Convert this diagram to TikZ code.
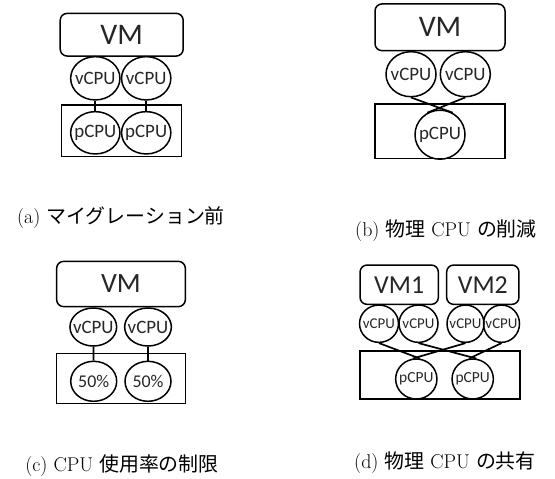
\documentclass[tikz,border=0pt]{standalone}
\usepackage{fontspec}
\usetikzlibrary{shapes.geometric}
\newfontfamily\jpfont{Noto Sans CJK JP}
\newfontfamily\diagfont{Carlito}
\newcommand{\cpuname}[1]{\makebox[0pt]{#1}}
\newcommand{\diagsize}[1]{\diagfont\fontsize{#1}{#1}\selectfont}

\begin{document}
\begin{tikzpicture}[x=1bp, y=-1bp,
  vmbox/.style={draw, rounded corners=7bp, line width=1.5bp, inner sep=0pt, text=black!85},
  cpu/.style={draw, ellipse, line width=1.5bp, inner sep=0pt, text=black!85},
  hostbox/.style={draw, line width=1.5bp, inner sep=0pt},
  link/.style={line width=1.7bp},
  caption/.style={font=\fontsize{20}{24}\selectfont, inner sep=0pt}]
\useasboundingbox (0,0) rectangle (555,479);
% (a)
\node[vmbox, minimum width=123bp, minimum height=42.7bp, font=\diagsize{30}] (vmA) at (121.7,34.7) {VM};
\node[hostbox, minimum width=120bp, minimum height=51.7bp] (hostA) at (121.7,130.8) {};
\node[cpu, minimum width=49.3bp, minimum height=43.3bp, font=\diagsize{19}] (vA1) at (95.3,78.3) {\cpuname{vCPU}};
\node[cpu, minimum width=49.3bp, minimum height=43.3bp, font=\diagsize{19}] (vA2) at (146.2,78.3) {\cpuname{vCPU}};
\node[cpu, minimum width=49.3bp, minimum height=42.3bp, font=\diagsize{19}] (pA1) at (95.3,132.8) {\cpuname{pCPU}};
\node[cpu, minimum width=49.3bp, minimum height=42.3bp, font=\diagsize{19}] (pA2) at (146.2,132.8) {\cpuname{pCPU}};
\draw[link] (vA1) -- (pA1);
\draw[link] (vA2) -- (pA2);
\node[caption] (capA) at (121,218) {(a) {\jpfont マイグレーション前}};
% (b)
\node[vmbox, minimum width=130bp, minimum height=46.7bp, font=\diagsize{30}] (vmB) at (440,27.3) {VM};
\node[hostbox, minimum width=130bp, minimum height=54.3bp] (hostB) at (440,131.2) {};
\node[cpu, minimum width=50bp, minimum height=45bp, font=\diagsize{19}] (vB1) at (411,74.2) {\cpuname{vCPU}};
\node[cpu, minimum width=50bp, minimum height=45bp, font=\diagsize{19}] (vB2) at (465.3,74.2) {\cpuname{vCPU}};
\node[cpu, minimum width=50bp, minimum height=49bp, font=\diagsize{19}] (pB) at (440,134.7) {\cpuname{pCPU}};
\draw[link] (vB1.south) -- (pB.60);
\draw[link] (vB2.south) -- (pB.120);
\node[caption] (capB) at (446,231) {(b) {\jpfont 物理} CPU {\jpfont の削減}};
% (c)
\node[vmbox, minimum width=128.7bp, minimum height=45.3bp, font=\diagsize{28}] (vmC) at (121,284) {VM};
\node[hostbox, minimum width=128.7bp, minimum height=50bp] (hostC) at (121,378.3) {};
\node[cpu, minimum width=46.7bp, minimum height=38bp, font=\diagsize{19}] (vC1) at (93.3,327) {\cpuname{vCPU}};
\node[cpu, minimum width=46.7bp, minimum height=38bp, font=\diagsize{19}] (vC2) at (148,327) {\cpuname{vCPU}};
\node[cpu, minimum width=46bp, minimum height=40bp, font=\diagsize{18}] (pC1) at (93.7,381.3) {\cpuname{50\%}};
\node[cpu, minimum width=46bp, minimum height=40bp, font=\diagsize{18}] (pC2) at (148,381.3) {\cpuname{50\%}};
\draw[link] (vC1) -- (pC1);
\draw[link] (vC2) -- (pC2);
\node[caption] (capC) at (122,466) {(c) CPU {\jpfont 使用率の制限}};
% (d)
\node[vmbox, minimum width=78.3bp, minimum height=39.3bp, font=\diagsize{26}] (vmD1) at (399.2,284.7) {VM1};
\node[vmbox, minimum width=72.3bp, minimum height=39.3bp, font=\diagsize{26}] (vmD2) at (482.8,284.7) {VM2};
\node[hostbox, minimum width=160bp, minimum height=48bp] (hostD) at (440,375) {};
\node[cpu, minimum width=39bp, minimum height=37.3bp, font=\diagsize{15}] (vD1) at (379,323.7) {\cpuname{vCPU}};
\node[cpu, minimum width=39bp, minimum height=37.3bp, font=\diagsize{15}] (vD2) at (418.5,323.7) {\cpuname{vCPU}};
\node[cpu, minimum width=37bp, minimum height=37.3bp, font=\diagsize{15}] (vD3) at (465.5,323.7) {\cpuname{vCPU}};
\node[cpu, minimum width=36bp, minimum height=37.3bp, font=\diagsize{15}] (vD4) at (501.5,323.7) {\cpuname{vCPU}};
\node[cpu, minimum width=41.3bp, minimum height=40bp, font=\diagsize{15.5}] (pD1) at (416.3,379) {\cpuname{pCPU}};
\node[cpu, minimum width=41.3bp, minimum height=40bp, font=\diagsize{15.5}] (pD2) at (472.7,379) {\cpuname{pCPU}};
\draw[link] (vD1.south) -- (pD1.80);
\draw[link] (vD3.south) -- (pD1.100);
\draw[link] (vD2.south) -- (pD2.80);
\draw[link] (vD4.south) -- (pD2.100);
\node[caption] (capD) at (445,463) {(d) {\jpfont 物理} CPU {\jpfont の共有}};
\end{tikzpicture}
\end{document}
